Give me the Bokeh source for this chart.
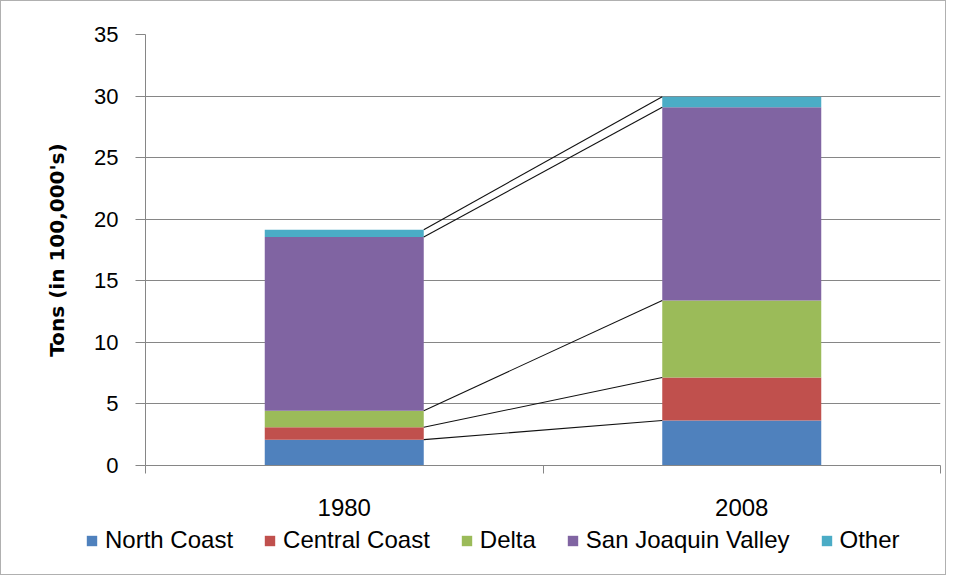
from bokeh.plotting import figure
from bokeh.models import ColumnDataSource, FixedTicker, Legend, LegendItem, Range1d
from bokeh.embed import file_html
from bokeh.resources import INLINE

# ---- data ----
years = ["1980", "2008"]
series_names = ["North Coast", "Central Coast", "Delta", "San Joaquin Valley", "Other"]
north_coast = [2.1, 3.65]
central_coast = [1.0, 3.5]
delta = [1.35, 6.25]
san_joaquin_valley = [14.1, 15.7]
other = [0.6, 0.85]
y_ticks = [0, 5, 10, 15, 20, 25, 30, 35]

colors = ["#4F81BD", "#C0504D", "#9BBB59", "#8064A2", "#4BACC6"]
keys = ["nc", "cc", "delta", "sjv", "other"]
values = [north_coast, central_coast, delta, san_joaquin_valley, other]

xs = [i + 0.5 for i in range(len(years))]
data = {"x": xs}
for k, v in zip(keys, values):
    data[k] = v
source = ColumnDataSource(data)

FONT = "Liberation Sans"
GRAY = "#868686"
FRAME = "#b0b0b0"
BAR_W = 0.4
W = 946

p = figure(width=W, height=524, output_backend="svg", toolbar_location=None,
           x_range=Range1d(0, len(years)), y_range=Range1d(0, 35),
           min_border_left=144, min_border_right=7, min_border_top=33, min_border_bottom=60,
           styles={"border": f"1px solid {FRAME}", "border-bottom": "none"})
p.outline_line_color = None
p.background_fill_color = "white"
p.border_fill_color = "white"

renderers = p.vbar_stack(keys, x="x", width=BAR_W, color=colors, line_color=None, source=source)

# connector lines between cumulative tops
cum = [0.0] * len(years)
for v in values:
    cum = [c + a for c, a in zip(cum, v)]
    for i in range(len(years) - 1):
        p.line([xs[i] + BAR_W / 2, xs[i + 1] - BAR_W / 2], [cum[i], cum[i + 1]],
               line_color="#111111", line_width=1.1)

# axes
p.xgrid.grid_line_color = None
p.ygrid.grid_line_color = GRAY
p.ygrid.grid_line_width = 1
p.ygrid.ticker = FixedTicker(ticks=y_ticks)

ya = p.yaxis[0]
ya.ticker = FixedTicker(ticks=y_ticks)
ya.axis_line_color = GRAY
ya.major_tick_line_color = GRAY
ya.major_tick_out = 10
ya.major_tick_in = 0
ya.minor_tick_line_color = None
ya.major_label_text_font = FONT
ya.major_label_text_font_size = "22px"
ya.major_label_text_color = "#000000"
ya.major_label_standoff = 17
ya.axis_label = "Tons (in 100,000's)"
ya.axis_label_text_font = "DejaVu Sans"
ya.axis_label_text_font_style = "bold"
ya.axis_label_text_font_size = "20px"
ya.axis_label_text_color = "#000000"
ya.axis_label_standoff = 22

xa = p.xaxis[0]
xa.ticker = FixedTicker(ticks=xs, minor_ticks=list(range(len(years) + 1)))
xa.major_label_overrides = {x: y for x, y in zip(xs, years)}
xa.axis_line_color = GRAY
xa.major_tick_line_color = None
xa.major_tick_out = 0
xa.major_tick_in = 0
xa.minor_tick_line_color = GRAY
xa.minor_tick_out = 8
xa.minor_tick_in = 0
xa.major_label_text_font = FONT
xa.major_label_text_font_size = "24px"
xa.major_label_text_color = "#000000"
xa.major_label_standoff = 25

# legend strip (separate root plot with no axes, frame spanning full width)
p2 = figure(width=W, height=51, output_backend="svg", toolbar_location=None,
            x_range=Range1d(0, 1), y_range=Range1d(0, 1),
            x_axis_location=None, y_axis_location=None,
            min_border_left=0, min_border_right=0, min_border_top=0, min_border_bottom=0,
            styles={"border": f"1px solid {FRAME}", "border-top": "none"})
p2.grid.visible = False
p2.outline_line_color = None
# zero-size swatch anchors: only their colours are used by the legend
swatches = [p2.vbar(x=[0], top=[0], bottom=[0], width=0, fill_color=c, line_color=None)
            for c in colors]

legend = Legend(items=[LegendItem(label=n, renderers=[r]) for n, r in zip(series_names, swatches)],
                orientation="horizontal", location=(84, 21))
legend.label_text_font = FONT
legend.label_text_font_size = "24px"
legend.label_text_color = "#000000"
legend.glyph_width = 13
legend.glyph_height = 13
legend.label_standoff = 7
legend.spacing = 30
legend.padding = 0
legend.margin = 0
legend.border_line_color = None
legend.background_fill_alpha = 0
legend.label_height = 28
p2.add_layout(legend, "center")

open("out.html", "w").write(file_html([p, p2], INLINE))
